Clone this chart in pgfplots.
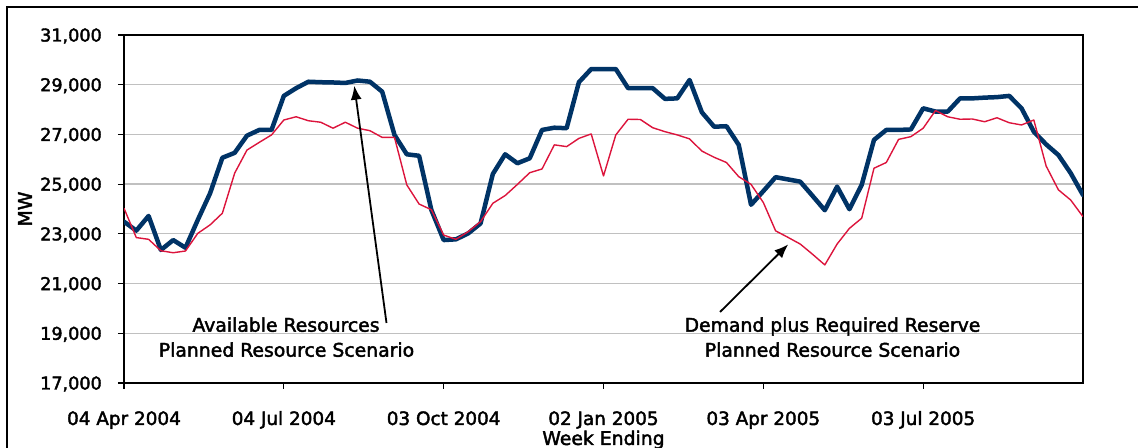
\documentclass[border=0pt]{standalone}
\usepackage{fontspec}
\setmainfont{DejaVu Sans}[BoldFont={DejaVu Sans}, BoldFeatures={FakeBold=2.2}]
\usepackage{pgfplots}
\pgfplotsset{compat=1.18}
\usetikzlibrary{arrows.meta}
\definecolor{navy}{RGB}{0,51,102}
\definecolor{crim}{RGB}{220,20,60}
\definecolor{gridgray}{RGB}{192,192,192}
\newcommand{\cf}{\fontsize{18.8bp}{22bp}\selectfont\bfseries}
\newcommand{\xf}{\fontsize{18.4bp}{22bp}\selectfont\bfseries}
\newcommand{\yf}{\fontsize{17.6bp}{22bp}\selectfont\bfseries}

\begin{document}
\begin{tikzpicture}[x=1bp,y=1bp]
\useasboundingbox (0,0) rectangle (1138,448);
\draw[line width=1.5bp] (7,0) -- (7,441) -- (1138,441);
\begin{axis}[
  at={(124bp,65bp)}, anchor=south west,
  scale only axis, width=959bp, height=348bp,
  xmin=0, xmax=78, ymin=17000, ymax=31000,
  xtick={0,13,26,39,52,65},
  xticklabels={04 Apr 2004, 04 Jul 2004, 03 Oct 2004, 02 Jan 2005, 03 Apr 2005, 03 Jul 2005},
  ytick={17000,19000,...,31000},
  scaled y ticks=false,
  /pgf/number format/fixed,
  /pgf/number format/1000 sep={,},
  /pgf/number format/assume math mode=true,
  tick align=outside,
  xtick pos=bottom, ytick pos=left,
  major tick length=6bp,
  every tick/.style={black, line width=1.2bp},
  ymajorgrids,
  grid style={gridgray, line width=1.3bp},
  axis line style={line width=1.4bp, black},
  xticklabel style={font=\xf, anchor=base, inner sep=0pt, yshift=-36bp},
  yticklabel style={font=\yf, anchor=base east, inner sep=0pt, xshift=-16bp, yshift=-6.5bp},
  xlabel={Week Ending}, ylabel={MW},
  label style={font=\cf},
  xlabel style={at={(axis description cs:0.5,-0.178)}, anchor=base, inner sep=0pt},
  ylabel style={at={(axis description cs:-0.1032,0.5)}, anchor=center, inner sep=0pt},
]
\addplot[navy, line width=4.5bp, line join=round, line cap=round] coordinates {
(0,23490) (1,23130) (2,23720) (3,22350) (4,22750) (5,22440) (6,23560) (7,24630)
(8,26060) (9,26260) (10,26950) (11,27180) (12,27180) (13,28550) (14,28860) (15,29120)
(16,29100) (17,29090) (18,29070) (19,29170) (20,29120) (21,28720) (22,26980) (23,26200)
(24,26140) (25,23960) (26,22750) (27,22780) (28,23020) (29,23420) (30,25410) (31,26200)
(32,25840) (33,26040) (34,27180) (35,27270) (36,27250) (37,29100) (38,29630) (39,29630)
(40,29630) (41,28860) (42,28860) (43,28860) (44,28430) (45,28450) (46,29190) (47,27890)
(48,27310) (49,27330) (50,26580) (51,24170) (52,24720) (53,25280) (54,25190) (55,25100)
(56,24530) (57,23950) (58,24900) (59,23990) (60,24970) (61,26780) (62,27180) (63,27180)
(64,27200) (65,28050) (66,27920) (67,27920) (68,28450) (69,28450) (70,28480) (71,28500)
(72,28550) (73,28050) (74,27110) (75,26600) (76,26170) (77,25440) (78,24560)
};
\addplot[crim, line width=1.4bp, line join=round] coordinates {
(0,24030) (1,22850) (2,22780) (3,22320) (4,22240) (5,22310) (6,23020) (7,23360)
(8,23830) (9,25440) (10,26370) (11,26680) (12,26980) (13,27580) (14,27710) (15,27550)
(16,27490) (17,27250) (18,27490) (19,27250) (20,27150) (21,26880) (22,26880) (23,24970)
(24,24200) (25,23970) (26,22950) (27,22780) (28,23090) (29,23490) (30,24230) (31,24540)
(32,24990) (33,25460) (34,25610) (35,26580) (36,26510) (37,26840) (38,27020) (39,25330)
(40,26980) (41,27610) (42,27600) (43,27270) (44,27110) (45,26980) (46,26820) (47,26330)
(48,26080) (49,25870) (50,25300) (51,24990) (52,24260) (53,23120) (54,22860) (55,22590)
(56,22180) (57,21750) (58,22590) (59,23220) (60,23630) (61,25640) (62,25870) (63,26800)
(64,26910) (65,27250) (66,27960) (67,27710) (68,27610) (69,27620) (70,27510) (71,27670)
(72,27470) (73,27380) (74,27580) (75,25730) (76,24770) (77,24360) (78,23690)
};
\end{axis}
\node[font=\cf, anchor=base, inner sep=0pt] at (286,116.3) {Available Resources};
\node[font=\cf, anchor=base, inner sep=0pt] at (286.5,91.3) {Planned Resource Scenario};
\node[font=\cf, anchor=base, inner sep=0pt] at (832.5,116.3) {Demand plus Required Reserve};
\node[font=\cf, anchor=base, inner sep=0pt] at (832.5,91.3) {Planned Resource Scenario};
\draw[line width=1.8bp, -{Latex[length=14bp,width=11bp]}] (386.5,125) -- (354.3,362.3);
\draw[line width=1.8bp, -{Latex[length=14bp,width=11bp]}] (720,136) -- (788.3,203.7);
\end{tikzpicture}
\end{document}
